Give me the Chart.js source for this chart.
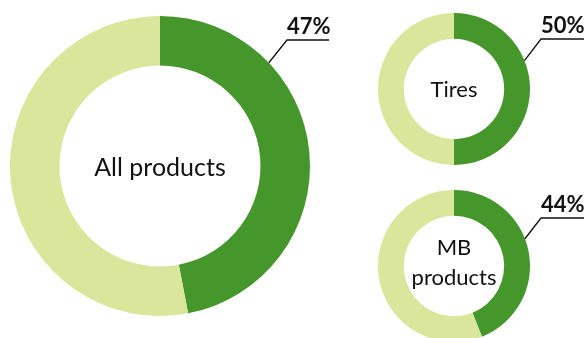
<!DOCTYPE html>
<html>
<head>
<meta charset="utf-8">
<script src="https://cdn.jsdelivr.net/npm/chart.js@4.4.0/dist/chart.umd.min.js"></script>
<style>
  html, body { margin: 0; padding: 0; background: #fff; }
  body { width: 587px; height: 338px; overflow: hidden; position: relative; }
  canvas { position: absolute; left: 0; top: 0; }
</style>
</head>
<body>
<canvas id="allChart" width="587" height="346"></canvas>
<canvas id="tiresChart" width="587" height="346"></canvas>
<canvas id="mbChart" width="587" height="346"></canvas>
<script>
// share values (%), dark = share, light = rest
const categories = ['All products', 'Tires', 'MB products'];
const centerLabels = [['All products'], ['Tires'], ['MB', 'products']];
const shares = [47, 50, 44];
const shareLabels = ['47%', '50%', '44%'];

const DARK = '#45962b';
const LIGHT = '#d9e69b';
const FONT = 'Lato, "Noto Sans", sans-serif';

// draws center text + leader line with underlined percent label
const calloutPlugin = {
  id: 'callout',
  afterDatasetsDraw(chart, args, opts) {
    const arc = chart.getDatasetMeta(0).data[0];
    if (!arc) return;
    const {x, y, outerRadius} = arc.getProps(['x', 'y', 'outerRadius'], true);
    const ctx = chart.ctx;
    ctx.save();

    // center text
    ctx.fillStyle = '#111';
    ctx.font = opts.centerSize + 'px ' + FONT;
    ctx.textAlign = 'center';
    ctx.textBaseline = 'middle';
    const lines = opts.center;
    const lh = opts.centerSize * 1.38;
    lines.forEach((t, i) => {
      ctx.fillText(t, x, y + opts.centerDy + (i - (lines.length - 1) / 2) * lh);
    });

    // leader
    const a = (opts.angle - 90) * Math.PI / 180;
    const sx = x + outerRadius * Math.cos(a);
    const sy = y + outerRadius * Math.sin(a);
    ctx.strokeStyle = '#111';
    ctx.lineWidth = 1.3;
    ctx.beginPath();
    ctx.moveTo(sx, sy);
    ctx.lineTo(opts.elbowX, opts.elbowY);
    ctx.lineTo(opts.elbowX + opts.lineLen, opts.elbowY);
    ctx.stroke();

    ctx.font = 'bold 22px ' + FONT;
    ctx.textAlign = 'left';
    ctx.textBaseline = 'alphabetic';
    ctx.fillText(opts.text, opts.elbowX, opts.elbowY - 6);
    ctx.restore();
  }
};

function makeDonut(id, idx, padding, callout) {
  return new Chart(document.getElementById(id), {
    type: 'doughnut',
    data: {
      labels: [categories[idx], 'Other'],
      datasets: [{
        data: [shares[idx], 100 - shares[idx]],
        backgroundColor: [DARK, LIGHT],
        borderWidth: 0,
        hoverOffset: 0
      }]
    },
    options: {
      responsive: false,
      animation: false,
      cutout: callout.cutout,
      layout: { padding: padding },
      plugins: {
        legend: { display: false },
        tooltip: { enabled: false },
        callout: Object.assign({ center: centerLabels[idx], text: shareLabels[idx] }, callout)
      }
    },
    plugins: [calloutPlugin]
  });
}

makeDonut('allChart', 0,
  { left: 10, right: 277, top: 16, bottom: 30 },
  { cutout: '67%', centerSize: 25, centerDy: 2, angle: 46.5, elbowX: 287, elbowY: 40, lineLen: 42 });

makeDonut('tiresChart', 1,
  { left: 378, right: 57, top: 13, bottom: 181 },
  { cutout: '66%', centerSize: 22, centerDy: 1, angle: 68, elbowX: 541, elbowY: 39, lineLen: 43 });

makeDonut('mbChart', 2,
  { left: 378, right: 57, top: 190, bottom: 4 },
  { cutout: '66%', centerSize: 22, centerDy: -3, angle: 69, elbowX: 541, elbowY: 218, lineLen: 43 });
</script>
</body>
</html>
